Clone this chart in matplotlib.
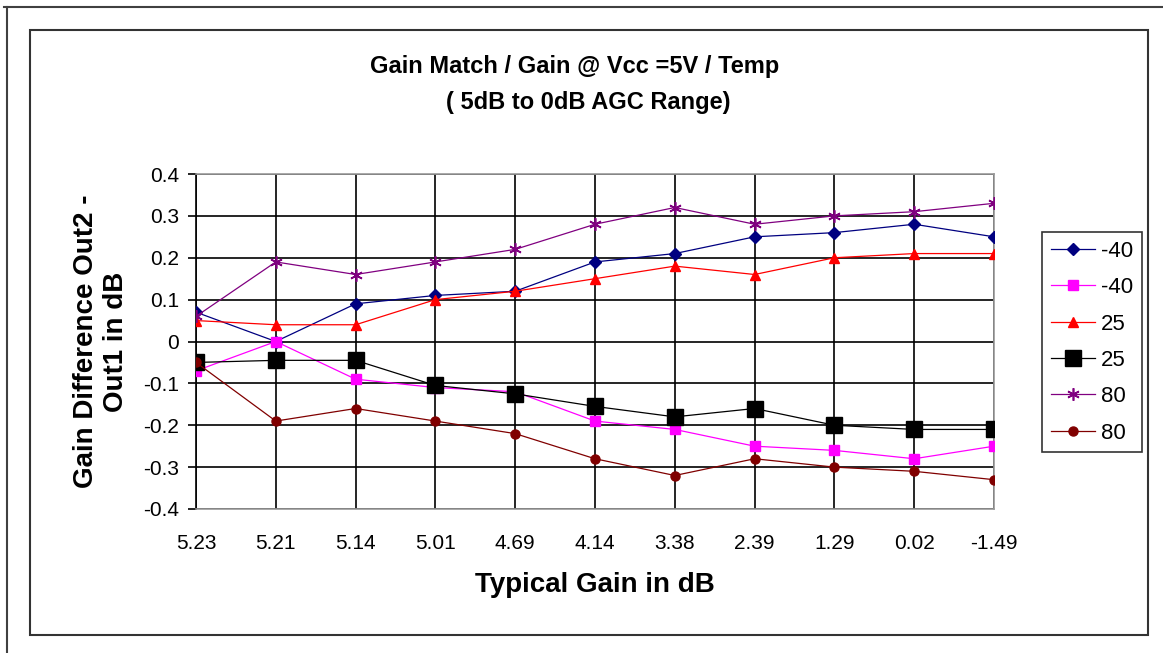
import matplotlib
matplotlib.use("Agg")
import matplotlib.pyplot as plt
from matplotlib.lines import Line2D
from matplotlib.patches import Rectangle

plt.rcParams['font.family'] = ['Liberation Sans', 'DejaVu Sans']

gains = ['5.23', '5.21', '5.14', '5.01', '4.69', '4.14', '3.38', '2.39', '1.29', '0.02', '-1.49']

out_m40_a = [0.07, 0.00, 0.09, 0.11, 0.12, 0.19, 0.21, 0.25, 0.26, 0.28, 0.25]
out_m40_b = [-0.07, 0.00, -0.09, -0.11, -0.12, -0.19, -0.21, -0.25, -0.26, -0.28, -0.25]
out_25_a = [0.05, 0.04, 0.04, 0.10, 0.12, 0.15, 0.18, 0.16, 0.20, 0.21, 0.21]
out_25_b = [-0.05, -0.045, -0.045, -0.105, -0.125, -0.155, -0.18, -0.16, -0.20, -0.21, -0.21]
out_80_a = [0.06, 0.19, 0.16, 0.19, 0.22, 0.28, 0.32, 0.28, 0.30, 0.31, 0.33]
out_80_b = [-0.05, -0.19, -0.16, -0.19, -0.22, -0.28, -0.32, -0.28, -0.30, -0.31, -0.33]

labels = ['-40', '-40', '25', '25', '80', '80']

W, H = 1163, 653
fig = plt.figure(figsize=(W / 100, H / 100), dpi=100)

# outer page lines and chart frame
fig.add_artist(Line2D([4 / W, 1], [1 - 7 / H, 1 - 7 / H], color='#404040', lw=1.5))
fig.add_artist(Line2D([7 / W, 7 / W], [0, 1 - 7 / H], color='#404040', lw=1.5))
fig.add_artist(Rectangle((30 / W, 1 - 635 / H), (1148 - 30) / W, (635 - 30) / H,
                         fill=False, edgecolor='#333333', lw=1.5))

ax = fig.add_axes([196 / W, 1 - 509 / H, (994 - 196) / W, (509 - 174) / H])
x = list(range(len(gains)))

ax.plot(x, out_m40_a, color='#000080', marker='D', ms=6, lw=0.9, label=labels[0], zorder=3)
ax.plot(x, out_m40_b, color='#FF00FF', marker='s', ms=6.5, lw=0.9, label=labels[1], zorder=3)
ax.plot(x, out_25_a, color='#FF0000', marker='^', ms=7.5, lw=0.9, label=labels[2], zorder=3)
ax.plot(x, out_25_b, color='#000000', marker='s', ms=12, lw=0.9, label=labels[3], zorder=3)
ax.plot(x, out_80_a, color='#800080', marker=(6, 2, 0), ms=9, mew=1.2, lw=0.9, label=labels[4], zorder=3)
ax.plot(x, out_80_b, color='#800000', marker='o', ms=6.5, lw=0.9, label=labels[5], zorder=3)

ax.set_xlim(0, len(gains) - 1)
ax.set_ylim(-0.4, 0.4)
ax.set_xticks(x)
ax.set_xticklabels(gains)
yt = [-0.4, -0.3, -0.2, -0.1, 0, 0.1, 0.2, 0.3, 0.4]
ax.set_yticks(yt)
ax.set_yticklabels(['0' if v == 0 else f'{v:.1f}' for v in yt])
ax.grid(True, color='black', lw=1.2)
ax.set_axisbelow(True)
ax.tick_params(axis='y', direction='out', length=6, width=1.2, labelsize=15, pad=6)
ax.tick_params(axis='x', length=0, labelsize=15, pad=18)
for s in ['top', 'right', 'bottom']:
    ax.spines[s].set_color('#999999')
    ax.spines[s].set_linewidth(1.2)
ax.spines['left'].set_color('black')
ax.spines['left'].set_linewidth(1.2)

ax.set_xlabel('Typical Gain in dB', fontsize=20, fontweight='bold', labelpad=14)
ax.set_ylabel('Gain Difference Out2 -\nOut1 in dB', fontsize=20, fontweight='bold', labelpad=10)

fig.text(575 / W, 1 - 67 / H, 'Gain Match / Gain @ Vcc =5V / Temp', ha='center', va='center',
         fontsize=17, fontweight='bold')
fig.text(588 / W, 1 - 103 / H, '( 5dB to 0dB AGC Range)', ha='center', va='center',
         fontsize=17, fontweight='bold')

leg = fig.legend(loc='upper left', bbox_to_anchor=(1042 / W, 1 - 232 / H), fontsize=16,
                 frameon=True, fancybox=False, edgecolor='black', handlelength=2.0,
                 labelspacing=0.69, borderpad=0.4, handletextpad=0.25, borderaxespad=0)
leg.get_frame().set_linewidth(1.2)

fig.savefig('out.png', dpi=100)
